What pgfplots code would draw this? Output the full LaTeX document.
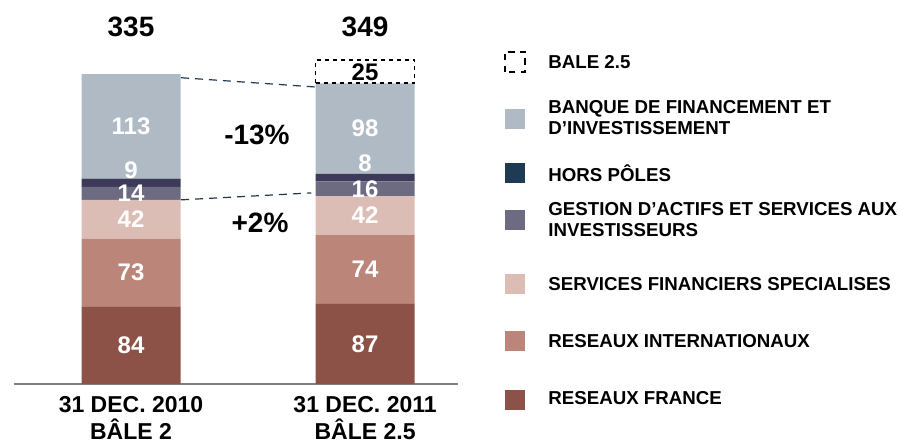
\documentclass[border=0pt]{standalone}
\usepackage{pgfplots}
\pgfplotsset{compat=1.18}
\usepackage{fontspec}
\setmainfont{Liberation Sans}
\definecolor{rf}{HTML}{8C5248}
\definecolor{ri}{HTML}{BC8579}
\definecolor{sfs}{HTML}{DBBDB5}
\definecolor{gis}{HTML}{6C6B82}
\definecolor{hpbar}{HTML}{3D3A59}
\definecolor{hp}{HTML}{1F3A53}
\definecolor{bfi}{HTML}{B0BAC5}
\definecolor{axisgray}{HTML}{7F7F7F}
\definecolor{conn}{HTML}{1F3A53}
\newcommand{\barlab}{\bfseries\fontsize{12}{14}\selectfont}
\newcommand{\bigtxt}{\bfseries\fontsize{14}{16}\selectfont}
\newcommand{\legtxt}{\bfseries\fontsize{9.35}{10.5}\selectfont}
\tikzset{wl/.style={font=\barlab, text=white, inner sep=0pt}}
\begin{document}
\begin{tikzpicture}
\path[use as bounding box] (0,0) rectangle (449.5pt,221pt);
\begin{axis}[at={(7pt,29pt)}, anchor=south west, scale only axis,
  width=222pt, height=192pt, xmin=-0.5, xmax=1.397, ymin=0, ymax=415,
  ybar stacked, bar width=49.5pt, clip=false,
  hide y axis, axis x line*=bottom,
  x axis line style={draw=axisgray, line width=0.8pt},
  xtick={0,1}, major tick length=0pt,
  xticklabels={{31 DEC. 2010\\BÂLE 2},{31 DEC. 2011\\BÂLE 2.5}},
  x tick label style={align=center, yshift=-2.5pt, font=\bfseries\fontsize{11.5}{13.8}\selectfont},
  ]
\addplot[fill=rf, draw=none] coordinates {(0,84) (1,87)};
\addplot[fill=ri, draw=none] coordinates {(0,73) (1,74)};
\addplot[fill=sfs, draw=none] coordinates {(0,42) (1,42)};
\addplot[fill=gis, draw=none] coordinates {(0,14) (1,16)};
\addplot[fill=hpbar, draw=none] coordinates {(0,9) (1,8)};
\addplot[fill=bfi, draw=none] coordinates {(0,113) (1,98)};
\draw[conn, line width=0.6pt, dash pattern=on 4pt off 3pt] (axis cs:0.2137,331) -- (axis cs:0.786,321);
\draw[conn, line width=0.6pt, dash pattern=on 4pt off 3pt] (axis cs:0.2137,199) -- (axis cs:0.77,206.5);
\node[font=\bigtxt, inner sep=0pt] at (axis cs:0,386) {335};
\node[font=\bigtxt, inner sep=0pt] at (axis cs:1,386) {349};
\node[font=\bigtxt, inner sep=0pt] at (axis cs:0.538,269) {-13\%};
\node[font=\bigtxt, inner sep=0pt] at (axis cs:0.551,174) {+2\%};
\end{axis}
\begin{axis}[at={(7pt,29pt)}, anchor=south west, scale only axis,
  width=222pt, height=192pt, xmin=-0.5, xmax=1.397, ymin=0, ymax=415,
  ybar stacked, bar width=49.5pt, hide axis, clip=false]
\addplot[draw=none, fill=none] coordinates {(1,325)};
\addplot[draw=black, fill=none, line width=0.8pt, dash pattern=on 2pt off 2pt] coordinates {(1,25)};
\node[wl] at (axis cs:0,42) {84};
\node[wl] at (axis cs:0,120.5) {73};
\node[wl] at (axis cs:0,178) {42};
\node[wl] at (axis cs:0,206.5) {14};
\node[wl] at (axis cs:0,231) {9};
\node[wl] at (axis cs:0,279) {113};
\node[wl] at (axis cs:1,43.5) {87};
\node[wl] at (axis cs:1,124) {74};
\node[wl] at (axis cs:1,182) {42};
\node[wl] at (axis cs:1,211) {16};
\node[wl] at (axis cs:1,239) {8};
\node[wl] at (axis cs:1,276.5) {98};
\node[font=\barlab, inner sep=0pt] at (axis cs:1,336.5) {25};
\end{axis}
\draw[black, line width=0.8pt, dash pattern=on 3.2pt off 2.6pt] (252.5pt,185pt) rectangle ++(10pt,10pt);
\fill[bfi] (252.5pt,156.5pt) rectangle ++(10pt,10pt);
\fill[hp] (252.5pt,129.5pt) rectangle ++(10pt,10pt);
\fill[gis] (252.5pt,106pt) rectangle ++(10pt,10pt);
\fill[sfs] (252.5pt,74pt) rectangle ++(10pt,10pt);
\fill[ri] (252.5pt,45.5pt) rectangle ++(10pt,10pt);
\fill[rf] (252.5pt,16pt) rectangle ++(10pt,10pt);
\node[font=\legtxt, anchor=west, inner sep=0pt, align=left] at (274pt,190pt) {BALE 2.5};
\node[font=\legtxt, anchor=west, inner sep=0pt, align=left] at (274pt,162.25pt) {BANQUE DE FINANCEMENT ET\\D’INVESTISSEMENT};
\node[font=\legtxt, anchor=west, inner sep=0pt, align=left] at (274pt,134.5pt) {HORS PÔLES};
\node[font=\legtxt, anchor=west, inner sep=0pt, align=left] at (274pt,111pt) {GESTION D’ACTIFS ET SERVICES AUX\\INVESTISSEURS};
\node[font=\legtxt, anchor=west, inner sep=0pt, align=left] at (274pt,79pt) {SERVICES FINANCIERS SPECIALISES};
\node[font=\legtxt, anchor=west, inner sep=0pt, align=left] at (274pt,50.5pt) {RESEAUX INTERNATIONAUX};
\node[font=\legtxt, anchor=west, inner sep=0pt, align=left] at (274pt,22pt) {RESEAUX FRANCE};
\end{tikzpicture}
\end{document}
